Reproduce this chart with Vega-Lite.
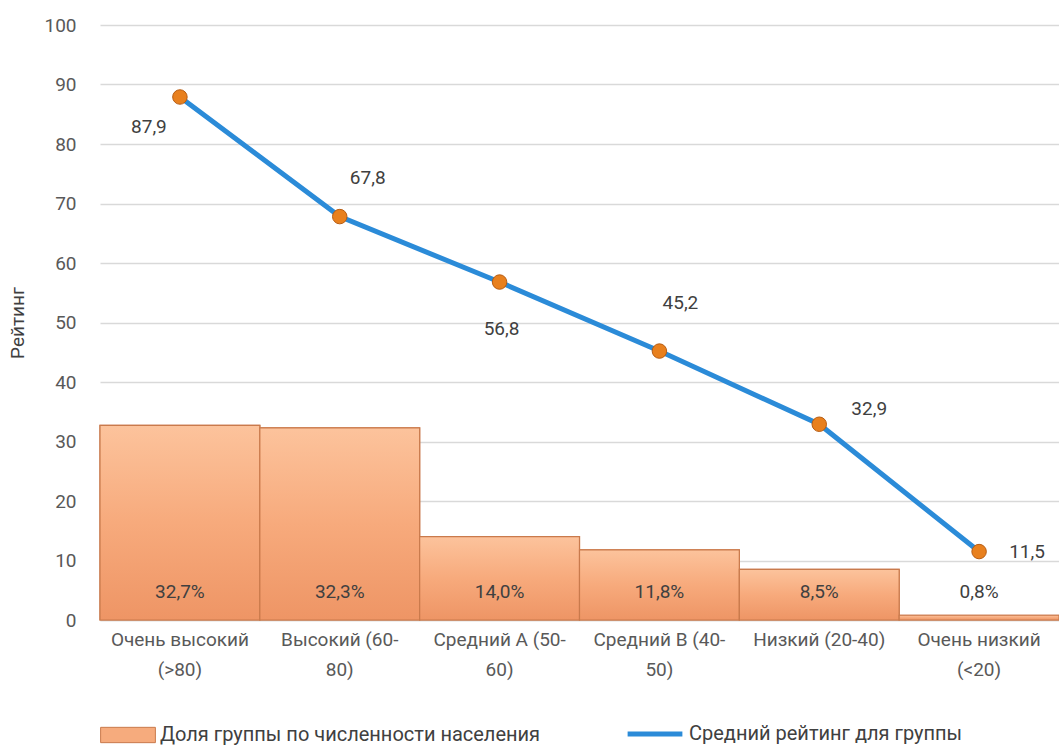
{
  "$schema": "https://vega.github.io/schema/vega-lite/v6.json",
  "width": 959,
  "height": 595,
  "autosize": {"type": "none"},
  "padding": {"left": 100, "top": 25, "right": 0, "bottom": 125},
  "config": {
    "font": "Liberation Sans Narrow, Roboto, sans-serif",
    "view": {"stroke": null},
    "axis": {"labelFont": "Liberation Sans Narrow, Roboto, sans-serif", "labelColor": "#595959", "labelFontSize": 19, "titleFont": "Liberation Sans Narrow, Roboto, sans-serif"},
    "legend": {"labelFont": "Liberation Sans Narrow, Roboto, sans-serif"}
  },
  "data": {
    "values": [
      {"group": "Очень высокий (>80)", "share": 32.7, "rating": 87.9},
      {"group": "Высокий (60-80)", "share": 32.3, "rating": 67.8},
      {"group": "Средний А (50-60)", "share": 14.0, "rating": 56.8},
      {"group": "Средний В (40-50)", "share": 11.8, "rating": 45.2},
      {"group": "Низкий (20-40)", "share": 8.5, "rating": 32.9},
      {"group": "Очень низкий (<20)", "share": 0.8, "rating": 11.5}
    ]
  },
  "transform": [
    {"calculate": "replace(format(datum.share, '.1f'), '.', ',') + '%'", "as": "shareLabel"},
    {"calculate": "replace(format(datum.rating, '.1f'), '.', ',')", "as": "ratingLabel"}
  ],
  "encoding": {
    "x": {
      "field": "group",
      "type": "nominal",
      "sort": null,
      "scale": {"paddingInner": 0, "paddingOuter": 0},
      "axis": {
        "title": null,
        "labelAngle": 0,
        "ticks": false,
        "domainColor": "#d9d9d9",
        "domainWidth": 1.5,
        "labelPadding": 10,
        "labelLineHeight": 30,
        "labelLimit": 300,
        "labelExpr": "{'Очень высокий (>80)': ['Очень высокий', '(>80)'], 'Высокий (60-80)': ['Высокий (60-', '80)'], 'Средний А (50-60)': ['Средний А (50-', '60)'], 'Средний В (40-50)': ['Средний В (40-', '50)'], 'Низкий (20-40)': ['Низкий (20-40)'], 'Очень низкий (<20)': ['Очень низкий', '(<20)']}[datum.value]"
      }
    }
  },
  "layer": [
    {
      "mark": {
        "type": "bar",
        "stroke": "#c97a4c",
        "strokeWidth": 1.2
      },
      "encoding": {
        "y": {
          "field": "share",
          "type": "quantitative",
          "scale": {"domain": [0, 100]},
          "axis": {
            "title": "Рейтинг",
            "titleFontSize": 19,
            "titleFontWeight": "normal",
            "titleColor": "#404040",
            "titlePadding": 16,
            "values": [0, 10, 20, 30, 40, 50, 60, 70, 80, 90, 100],
            "ticks": false,
            "domain": false,
            "labelPadding": 24,
            "gridColor": "#d9d9d9",
            "gridWidth": 1.5
          }
        },
        "fill": {
          "datum": "Доля группы по численности населения",
          "scale": {"range": ["#f6ab7d"]},
          "legend": {
            "title": null,
            "orient": "bottom",
            "offset": 28,
            "symbolType": "M-1,-0.28H1V0.28H-1Z",
            "symbolSize": 3000,
            "symbolStrokeColor": "#c97a4c",
            "symbolStrokeWidth": 1,
            "labelFontSize": 20,
            "labelColor": "#404040",
            "labelLimit": 500
          }
        }
      }
    },
    {
      "mark": {
        "type": "bar",
        "stroke": "#c97a4c",
        "strokeWidth": 1.2,
        "color": {"gradient": "linear", "x1": 0, "y1": 0, "x2": 0, "y2": 1, "stops": [{"offset": 0, "color": "#fcc39c"}, {"offset": 0.5, "color": "#f7aa7c"}, {"offset": 1, "color": "#ee9565"}]}
      },
      "encoding": {
        "y": {"field": "share", "type": "quantitative"}
      }
    },
    {
      "mark": {"type": "text", "fontSize": 19, "color": "#404040", "dy": -28},
      "encoding": {
        "y": {"datum": 0},
        "text": {"field": "shareLabel"}
      }
    },
    {
      "mark": {"type": "line", "strokeWidth": 5},
      "encoding": {
        "y": {"field": "rating", "type": "quantitative"},
        "stroke": {
          "datum": "Средний рейтинг для группы",
          "scale": {"range": ["#2b8bd8"]},
          "legend": {
            "title": null,
            "orient": "none",
            "legendX": 525,
            "legendY": 679,
            "symbolType": "stroke",
            "symbolSize": 3000,
            "symbolStrokeWidth": 5,
            "labelFontSize": 20,
            "labelColor": "#404040",
            "labelLimit": 500
          }
        }
      }
    },
    {
      "mark": {"type": "point", "filled": true, "size": 210, "color": "#e8801e", "stroke": "#b75c12", "strokeWidth": 1, "opacity": 1},
      "encoding": {
        "y": {"field": "rating", "type": "quantitative"}
      }
    },
    {
      "transform": [{"filter": "datum.group == 'Очень высокий (>80)'"}],
      "mark": {"type": "text", "fontSize": 19, "color": "#404040", "dx": -31, "dy": 30},
      "encoding": {"y": {"field": "rating", "type": "quantitative"}, "text": {"field": "ratingLabel"}}
    },
    {
      "transform": [{"filter": "datum.group == 'Высокий (60-80)'"}],
      "mark": {"type": "text", "fontSize": 19, "color": "#404040", "dx": 28, "dy": -39},
      "encoding": {"y": {"field": "rating", "type": "quantitative"}, "text": {"field": "ratingLabel"}}
    },
    {
      "transform": [{"filter": "datum.group == 'Средний А (50-60)'"}],
      "mark": {"type": "text", "fontSize": 19, "color": "#404040", "dx": 2, "dy": 47},
      "encoding": {"y": {"field": "rating", "type": "quantitative"}, "text": {"field": "ratingLabel"}}
    },
    {
      "transform": [{"filter": "datum.group == 'Средний В (40-50)'"}],
      "mark": {"type": "text", "fontSize": 19, "color": "#404040", "dx": 21, "dy": -48},
      "encoding": {"y": {"field": "rating", "type": "quantitative"}, "text": {"field": "ratingLabel"}}
    },
    {
      "transform": [{"filter": "datum.group == 'Низкий (20-40)'"}],
      "mark": {"type": "text", "fontSize": 19, "color": "#404040", "dx": 50, "dy": -15},
      "encoding": {"y": {"field": "rating", "type": "quantitative"}, "text": {"field": "ratingLabel"}}
    },
    {
      "transform": [{"filter": "datum.group == 'Очень низкий (<20)'"}],
      "mark": {"type": "text", "fontSize": 19, "color": "#404040", "dx": 48, "dy": 0},
      "encoding": {"y": {"field": "rating", "type": "quantitative"}, "text": {"field": "ratingLabel"}}
    }
  ]
}
